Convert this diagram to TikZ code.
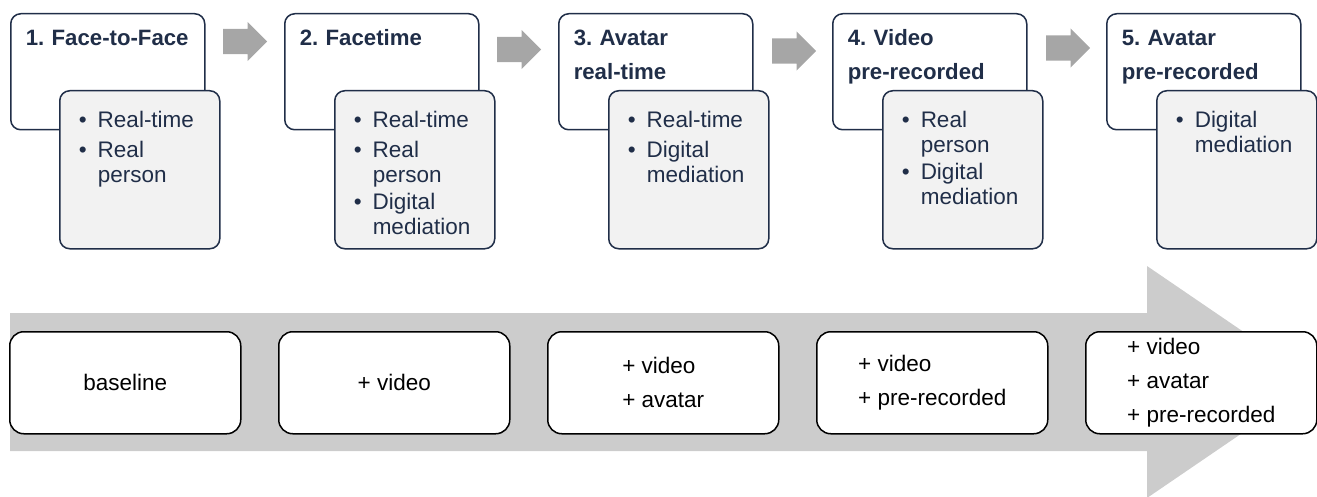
\documentclass[tikz,border=0pt]{standalone}
\usepackage{fontspec}
\setmainfont{Liberation Sans}
\usepackage{xcolor}
\usetikzlibrary{shapes.arrows}
\definecolor{navy}{RGB}{32,46,72}
\definecolor{bandgray}{RGB}{204,204,204}
\definecolor{arrowgray}{RGB}{166,166,166}
\definecolor{panelgray}{RGB}{242,242,242}
\newcommand{\bpoint}[1]{\makebox[19pt][l]{\textbullet}\parbox[t]{103pt}{#1}}
\frenchspacing

\begin{document}
\begin{tikzpicture}[x=1pt,y=-1pt,
  stage/.style={draw=navy,line width=1.5pt,fill=white,rounded corners=10pt,anchor=north west,
    text width=164pt,inner xsep=15pt,inner ysep=0pt,text height=32pt,text depth=84pt,align=left,
    text=navy,font=\bfseries\fontsize{22.2}{34}\selectfont},
  facts/.style={draw=navy,line width=1.5pt,fill=panelgray,rounded corners=10pt,anchor=north west,
    text width=122pt,inner xsep=19pt,inner ysep=0pt,text height=37pt,text depth=121pt,align=left,
    text=navy,font=\fontsize{22.5}{24.5}\selectfont},
  gain/.style={draw=black,line width=1.5pt,fill=white,rounded corners=14pt,anchor=north west,
    minimum width=231pt,minimum height=102pt,align=left,font=\fontsize{22.5}{34}\selectfont},
  nextarrow/.style={single arrow,fill=arrowgray,anchor=tail,minimum height=44pt,
    single arrow head extend=7pt,inner xsep=0pt,inner ysep=12.5pt}]
\useasboundingbox (0,0) rectangle (1317,497);
\fill[bandgray] (10,313) -- (1147,313) -- (1147,266) -- (1317,382) -- (1147,498) -- (1147,451) -- (10,451) -- cycle;
\node[gain] (g1) at (9,331) {baseline};
\node[gain] (g2) at (278,331) {+ video};
\node[gain] (g3) at (547,331) {+ video\\+ avatar};
\node[gain] (g4) at (816,331) {+ video\\+ pre-recorded};
\node[gain] (g5) at (1085,331) {+ video\\+ avatar\\+ pre-recorded};
\node[stage] (s1) at (10,13) {\mbox{1. Face-to-Face}};
\node[stage] (s2) at (284,13) {2. Facetime};
\node[stage] (s3) at (558,13) {3. Avatar\\real-time};
\node[stage] (s4) at (832,13) {4. Video\\pre-recorded};
\node[stage] (s5) at (1106,13) {5. Avatar\\pre-recorded};
\node[facts] (f1) at (59,90) {\bpoint{Real-time}\\[5.5pt]\bpoint{Real\\person}};
\node[facts] (f2) at (334,90) {\bpoint{Real-time}\\[5.5pt]\bpoint{Real\\person}\\[5.5pt]\bpoint{Digital\\mediation}};
\node[facts] (f3) at (608,90) {\bpoint{Real-time}\\[5.5pt]\bpoint{Digital\\mediation}};
\node[facts] (f4) at (882,90) {\bpoint{Real\\person}\\[5.5pt]\bpoint{Digital\\mediation}};
\node[facts] (f5) at (1156,90) {\bpoint{Digital\\mediation}};
\node[nextarrow] (a1) at (223,41.5) {};
\node[nextarrow] (a2) at (497,49.5) {};
\node[nextarrow] (a3) at (772,51) {};
\node[nextarrow] (a4) at (1046,48) {};
\end{tikzpicture}
\end{document}
